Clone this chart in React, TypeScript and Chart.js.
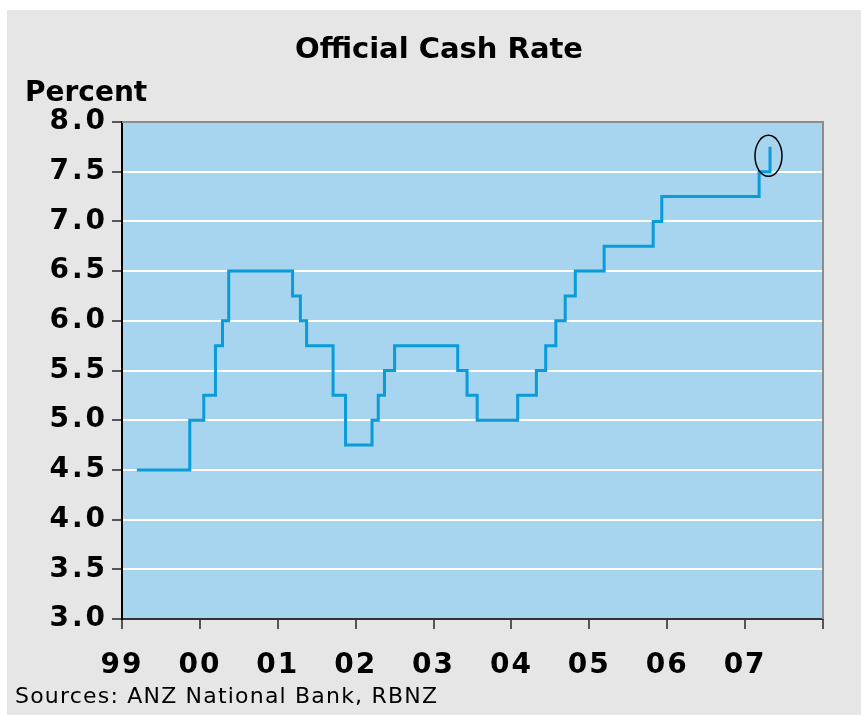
import React, { useEffect, useRef } from "react";
import { Chart, registerables } from "chart.js";

Chart.register(...registerables);

// Decimal-year dates of OCR changes and the rate set on each date
const changeDates = [
  1999.19, 1999.87, 2000.05, 2000.2, 2000.29, 2000.37, 2001.19, 2001.29,
  2001.37, 2001.71, 2001.87, 2002.21, 2002.29, 2002.37, 2002.5, 2003.31,
  2003.43, 2003.56, 2004.08, 2004.32, 2004.44, 2004.57, 2004.69, 2004.82,
  2005.19, 2005.82, 2005.93, 2007.18, 2007.32,
];
const rates = [
  4.5, 5.0, 5.25, 5.75, 6.0, 6.5, 6.25, 6.0, 5.75, 5.25, 4.75, 5.0, 5.25, 5.5,
  5.75, 5.5, 5.25, 5.0, 5.25, 5.5, 5.75, 6.0, 6.25, 6.5, 6.75, 7.0, 7.25, 7.5,
  7.75,
];
const xTickYears = [1999, 2000, 2001, 2002, 2003, 2004, 2005, 2006, 2007, 2008];
const xTickLabels = ["99", "00", "01", "02", "03", "04", "05", "06", "07", ""];
const highlightPoint = { x: 2007.3, y: 7.66 };

const title = "Official Cash Rate";
const yAxisTitle = "Percent";
const sourceNote = "Sources: ANZ National Bank, RBNZ";

const FONT = "'DejaVu Sans', Verdana, sans-serif";
const labelSpacing: Record<string, string> = { x: "2px", y: "3px" };

export default function App() {
  const ref = useRef<HTMLCanvasElement | null>(null);

  useEffect(() => {
    if (!ref.current) return;
    const spacingPlugin = {
      id: "spacingPlugin",
      afterUpdate(chart: any) {
        Object.keys(labelSpacing).forEach((id) => {
          const s = chart.scales[id];
          if (!s || s.__patched) return;
          const orig = s.drawLabels;
          s.drawLabels = function (area: any) {
            const c = this.ctx;
            c.save();
            c.letterSpacing = labelSpacing[id];
            orig.call(this, area);
            c.restore();
          };
          s.__patched = true;
        });
      },
    };
    const bgPlugin = {
      id: "bgPlugin",
      beforeDraw(chart: any) {
        const { ctx, chartArea: a, width, height } = chart;
        ctx.save();
        ctx.fillStyle = "#E6E6E6";
        ctx.fillRect(0, 0, width, height);
        ctx.fillStyle = "#A7D4EE";
        ctx.fillRect(a.left, a.top, a.right - a.left, a.bottom - a.top);
        ctx.restore();
      },
      afterDraw(chart: any) {
        const { ctx, chartArea: a } = chart;
        ctx.save();
        ctx.strokeStyle = "#8C8C8C";
        ctx.lineWidth = 2;
        ctx.beginPath();
        ctx.moveTo(a.left, a.top);
        ctx.lineTo(a.right, a.top);
        ctx.lineTo(a.right, a.bottom);
        ctx.stroke();
        ctx.fillStyle = "#000";
        ctx.textBaseline = "middle";
        ctx.font = `bold 29px ${FONT}`;
        ctx.textAlign = "center";
        ctx.fillText(title, 432, 40);
        ctx.textAlign = "left";
        ctx.font = `bold 28px ${FONT}`;
        ctx.fillText(yAxisTitle, 18, 84);
        ctx.font = `22px ${FONT}`;
        (ctx as any).letterSpacing = "1.2px";
        ctx.fillText(sourceNote, 8, 687);
        (ctx as any).letterSpacing = "0px";
        const xs = chart.scales.x;
        const ys = chart.scales.y;
        const cx = xs.getPixelForValue(highlightPoint.x);
        const cy = ys.getPixelForValue(highlightPoint.y);
        ctx.strokeStyle = "#000";
        ctx.lineWidth = 1.5;
        ctx.beginPath();
        ctx.ellipse(cx, cy, 13.5, 20.5, 0, 0, Math.PI * 2);
        ctx.stroke();
        ctx.restore();
      },
    };

    const chart = new Chart(ref.current, {
      type: "line",
      data: {
        datasets: [
          {
            data: changeDates.map((d, i) => ({ x: d, y: rates[i] })),
            borderColor: "#0A9BD9",
            borderWidth: 3,
            pointRadius: 0,
            stepped: true,
            fill: false,
          },
        ],
      },
      options: {
        animation: false,
        responsive: false,
        layout: { padding: { left: 0, top: 112, right: 38, bottom: 36 } },
        plugins: { legend: { display: false }, tooltip: { enabled: false } },
        scales: {
          x: {
            type: "linear",
            min: 1999,
            max: 2008,
            afterFit(scale: any) {
              scale.height = 60;
            },
            afterBuildTicks(scale: any) {
              scale.ticks = xTickYears.map((v) => ({ value: v }));
            },
            ticks: {
              autoSkip: false,
              maxRotation: 0,
              padding: 20,
              color: "#000",
              font: { family: FONT, size: 28, weight: "bold" },
              callback: (v: any) => {
                const i = xTickYears.indexOf(Number(v));
                return i >= 0 ? xTickLabels[i] : "";
              },
            },
            grid: {
              drawOnChartArea: false,
              tickLength: 10,
              tickColor: "#555",
              lineWidth: 2,
            },
            border: { display: true, color: "#333", width: 2 },
          },
          y: {
            min: 3,
            max: 8,
            afterFit(scale: any) {
              scale.width = 115;
            },
            ticks: {
              stepSize: 0.5,
              padding: 4,
              color: "#000",
              font: { family: FONT, size: 28, weight: "bold" },
              callback: (v: any) => Number(v).toFixed(1),
            },
            grid: {
              color: (c: any) =>
                c.tick && (c.tick.value === 3 || c.tick.value === 8)
                  ? "rgba(0,0,0,0)"
                  : "#FFFFFF",
              lineWidth: 2,
              tickLength: 10,
              tickColor: "#555",
            },
            border: { display: true, color: "#000", width: 2 },
          },
        },
      },
      plugins: [spacingPlugin, bgPlugin],
    });
    return () => chart.destroy();
  }, []);

  return (
    <div style={{ position: "absolute", left: 7, top: 10, width: 854, height: 705 }}>
      <canvas ref={ref} width={854} height={705} style={{ display: "block" }} />
    </div>
  );
}
